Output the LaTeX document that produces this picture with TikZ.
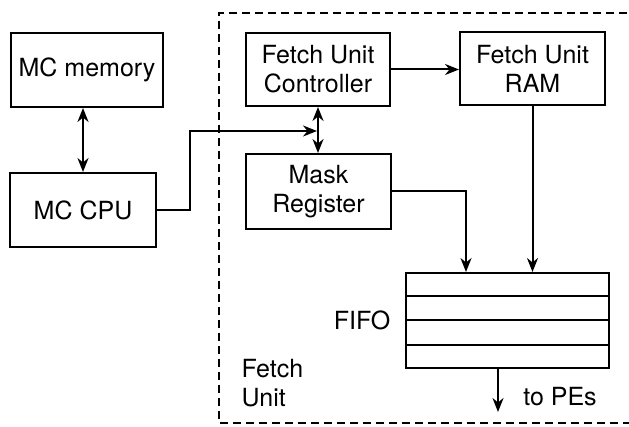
\documentclass[tikz,border=0pt]{standalone}
\usepackage{fontspec}
\setmainfont{TeX Gyre Heros}
\usetikzlibrary{arrows.meta,calc}
\begin{document}
\begin{tikzpicture}[x=1pt,y=-1pt,
  every node/.style={font=\fontsize{25}{29}\selectfont},
  box/.style={draw,line width=2pt,align=center,inner sep=0pt},
  conn/.style={line width=2pt},
  arr/.style={conn,-{Stealth[length=14pt,width=11pt]}},
  darr/.style={conn,{Stealth[length=14pt,width=11pt]}-{Stealth[length=14pt,width=11pt]}},
  dashbox/.style={line width=1.8pt,dash pattern=on 8pt off 5pt}]
\useasboundingbox (0,0) rectangle (629,427);
\node[box,minimum width=152pt,minimum height=74pt] (mem) at (87,70) {MC memory};
\node[box,minimum width=146pt,minimum height=74pt] (cpu) at (83,210) {MC CPU};
\node[box,minimum width=144pt,minimum height=73pt] (ctrl) at (318,69.5) {Fetch Unit\\Controller};
\node[box,minimum width=145pt,minimum height=73pt] (ram) at (532.5,68.5) {Fetch Unit\\RAM};
\node[box,minimum width=145pt,minimum height=75pt] (mask) at (318.5,191.5) {Mask\\Register};
\node[box,minimum width=203pt,minimum height=95pt] (fifo) at (507.5,320.5) {};
\foreach \i in {1,2,3}
  \draw[line width=2pt] ($(fifo.north west)!\i/4!(fifo.south west)$) -- ($(fifo.north east)!\i/4!(fifo.south east)$);
\node (fifol) at (362,320) {FIFO};
\node[align=left,anchor=west] (fu) at (238,383) {Fetch\\Unit};
\node (pes) at (560,397) {to PEs};
\coordinate (junc) at (317,131);
\coordinate (out) at (498,412);
\draw[dashbox] (640,13) -- (219,13) -- (219,423) -- (640,423);
\draw[darr] (cpu.north |- mem.south) -- (cpu.north);
\draw[arr] (cpu.east) -- ++(33,0) |- (junc);
\draw[darr] (ctrl.south) -- (ctrl.south |- mask.north);
\draw[arr] (ctrl.east) -- (ctrl.east -| ram.west);
\draw[arr] (ram.south) -- (ram.south |- fifo.north);
\draw[arr] (mask.east) -| ($(fifo.north west)+(61,0)$);
\draw[arr] (fifo.south -| out) -- (out);
\end{tikzpicture}
\end{document}
